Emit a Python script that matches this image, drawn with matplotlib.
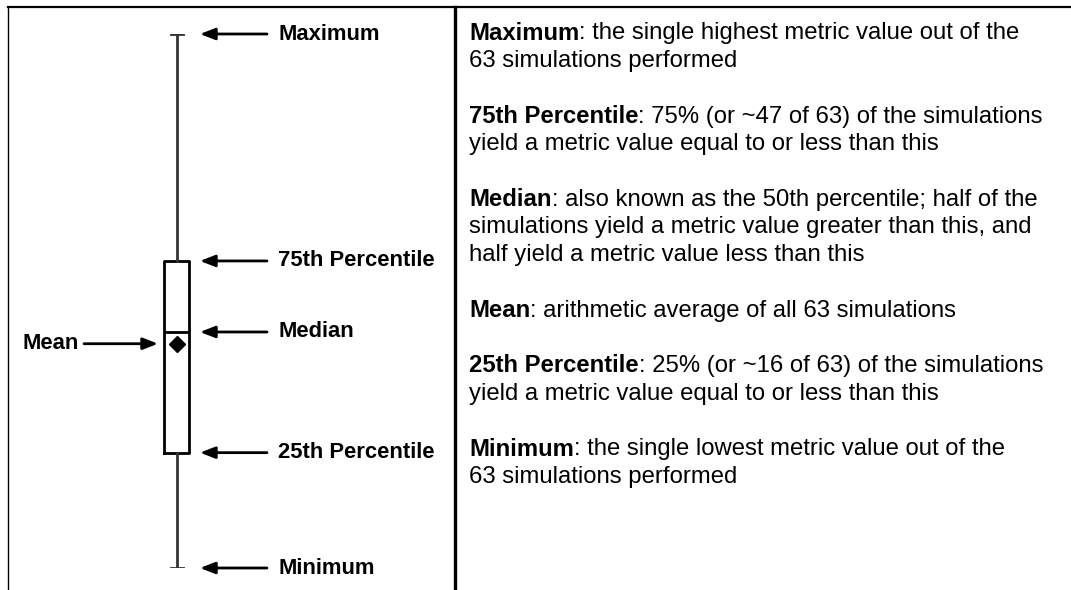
"""Explanatory box-plot legend: what each part of the box means."""

import matplotlib.pyplot as plt
from matplotlib.lines import Line2D

plt.rcParams["font.family"] = ["Liberation Sans", "DejaVu Sans"]

# box statistics in metric units (minimum = 0, maximum = 100)
stat_names = ["Maximum", "75th Percentile", "Median", "25th Percentile", "Minimum"]
stat_values = [100.0, 57.5, 44.2, 21.6, 0.0]
mean_value = 42.0

# description panel: bold term + the rest of each paragraph, line by line
desc_terms = ["Maximum", "75th Percentile", "Median", "Mean", "25th Percentile", "Minimum"]
desc_lines = [
    [": the single highest metric value out of the", "63 simulations performed"],
    [": 75% (or ~47 of 63) of the simulations", "yield a metric value equal to or less than this"],
    [": also known as the 50th percentile; half of the",
     "simulations yield a metric value greater than this, and",
     "half yield a metric value less than this"],
    [": arithmetic average of all 63 simulations"],
    [": 25% (or ~16 of 63) of the simulations", "yield a metric value equal to or less than this"],
    [": the single lowest metric value out of the", "63 simulations performed"],
]


def main() -> None:
    W, H = 1071, 590
    fig = plt.figure(figsize=(W / 100, H / 100), dpi=100)

    # background axes in pixel coordinates for frame and description text
    bg = fig.add_axes([0, 0, 1, 1])
    bg.set_xlim(0, W)
    bg.set_ylim(H, 0)
    bg.axis("off")
    bg.add_line(Line2D([8, W], [7, 7], color="black", lw=1.6))
    bg.add_line(Line2D([8, 8], [7, H], color="black", lw=1.0))
    bg.add_line(Line2D([454.5, 454.5], [7, H], color="black", lw=2.4))

    # description paragraphs, one blank line between paragraphs
    y0, line_step = 33.5, 27.7
    fs = 17.2
    fig.canvas.draw()
    renderer = fig.canvas.get_renderer()
    row = 0
    for term, lines in zip(desc_terms, desc_lines):
        y = y0 + line_step * row
        t = bg.text(469, y, term, fontsize=fs, fontweight="bold",
                    va="center", ha="left", color="black")
        bb = t.get_window_extent(renderer=renderer)
        x_end = bg.transData.inverted().transform((bb.x1, 0))[0]
        for i, line in enumerate(lines):
            bg.text(x_end if i == 0 else 469, y + line_step * i, line, fontsize=fs,
                    va="center", ha="left", color="black")
        row += len(lines) + 1

    # box plot axes: metric 0..100 maps to pixel rows 568..34
    ax = fig.add_axes([0, (H - 568) / H, 1, (568 - 34) / H])
    ax.set_xlim(0, W)
    ax.set_ylim(0, 100)
    ax.axis("off")
    ax.patch.set_alpha(0)

    whishi, q3, med, q1, whislo = stat_values
    stats = [dict(whislo=whislo, q1=q1, med=med, q3=q3, whishi=whishi,
                  mean=mean_value, fliers=[])]
    ax.bxp(stats, positions=[176.5], widths=[25], capwidths=[12],
           showmeans=True, showfliers=False, patch_artist=False,
           boxprops=dict(color="black", lw=2.0),
           medianprops=dict(color="black", lw=2.0),
           whiskerprops=dict(color="#333333", lw=2.0),
           capprops=dict(color="#333333", lw=2.0),
           meanprops=dict(marker="D", markerfacecolor="black",
                          markeredgecolor="black", markersize=8))

    arrow = dict(arrowstyle="-|>,head_length=0.9,head_width=0.35", lw=2.0,
                 color="black", shrinkA=0, shrinkB=0)
    for name, val in zip(stat_names, stat_values):
        ax.annotate("", xy=(200, val), xytext=(267, val), arrowprops=arrow)
        ax.text(278, val, name, fontsize=15.8, fontweight="bold",
                va="center", ha="left", color="black")
    ax.annotate("", xy=(158, mean_value), xytext=(84, mean_value), arrowprops=arrow)
    ax.text(79, mean_value, "Mean", fontsize=15.8, fontweight="bold",
            va="center", ha="right", color="black")

    fig.savefig("out.png", dpi=100)


if __name__ == "__main__":
    main()
